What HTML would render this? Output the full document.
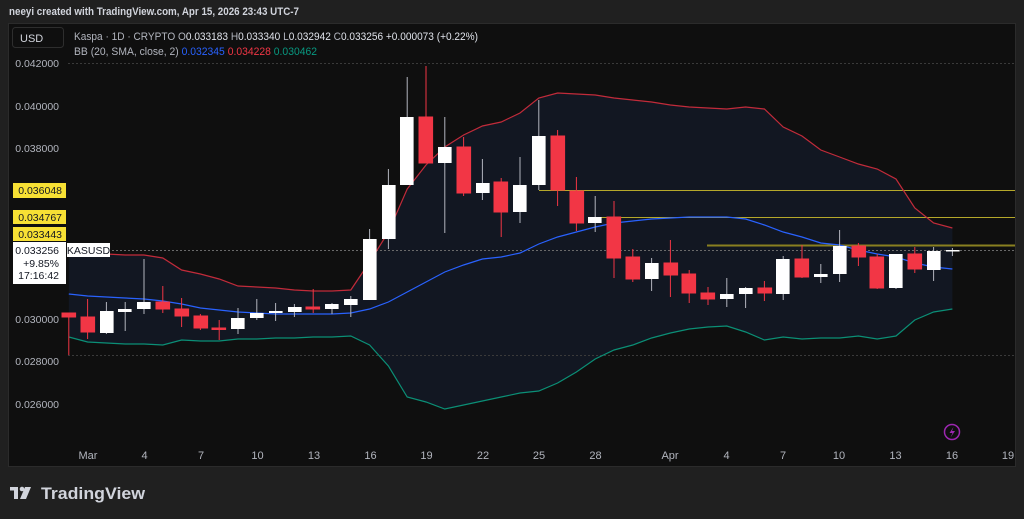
<!DOCTYPE html>
<html><head><meta charset="utf-8"><style>
html,body{margin:0;padding:0;background:#202020;}
svg{display:block;font-family:"Liberation Sans","DejaVu Sans",sans-serif;}
</style></head><body>
<svg width="1024" height="519" viewBox="0 0 1024 519" xmlns="http://www.w3.org/2000/svg">
<rect x="0" y="0" width="1024" height="519" fill="#202020"/>
<text x="9" y="15" font-size="11" fill="#d1d4dc" font-weight="bold" textLength="290" lengthAdjust="spacingAndGlyphs">neeyi created with TradingView.com, Apr 15, 2026 23:43 UTC-7</text>
<rect x="8.5" y="23.5" width="1007" height="443" fill="#0f0f0f" stroke="#2b2b2b"/>
<polygon fill="#121722" points="68.8,253 87.6,254 106.4,254 125.2,255 144,255 162.8,258 181.6,270 200.4,274 219.2,279 238,286 256.8,287 275.6,288 294.4,290 313.2,291 332,291 350.8,290 369.6,262 388.4,232 407.2,189 426,165 444.8,147 463.6,135 482.4,126 501.2,122 520,113 538.8,98 557.6,93 576.4,94 595.2,95 614,98 632.8,100 651.6,102 670.4,105 689.2,107 708,108 726.8,109 745.6,107 764.4,109 783.2,127 802,136 820.8,150 839.6,157 858.4,164 877.2,169 896,179 914.8,208 933.6,223 952.4,228 952.4,309 933.6,312 914.8,320 896,336 877.2,339 858.4,336 839.6,338 820.8,338 802,339 783.2,337 764.4,340 745.6,332 726.8,326 708,327 689.2,329 670.4,333 651.6,338 632.8,345 614,350 595.2,359 576.4,372 557.6,383 538.8,391 520,393 501.2,397 482.4,401 463.6,405 444.8,409 426,402 407.2,397 388.4,366 369.6,345 350.8,336 332,337 313.2,337 294.4,338 275.6,338 256.8,339 238,339 219.2,341 200.4,341 181.6,340 162.8,345 144,344 125.2,344 106.4,343 87.6,342 68.8,337"/>
<line x1="68" y1="63.5" x2="1015" y2="63.5" stroke="#3a3a3a" stroke-dasharray="2,2"/>
<line x1="68" y1="355.5" x2="1015" y2="355.5" stroke="#3a3a3a" stroke-dasharray="2,2"/>
<line x1="68" y1="250.5" x2="1015" y2="250.5" stroke="#6a6a6a" stroke-dasharray="2,2"/>
<line x1="539" y1="190.5" x2="1015" y2="190.5" stroke="#b5a82a" stroke-width="1"/>
<line x1="595" y1="217.5" x2="1015" y2="217.5" stroke="#b5a82a" stroke-width="1"/>
<line x1="707" y1="245.5" x2="1015" y2="245.5" stroke="#8a8020" stroke-width="2"/>
<polyline fill="none" stroke="#c22b3a" stroke-width="1.2" points="68.8,253 87.6,254 106.4,254 125.2,255 144,255 162.8,258 181.6,270 200.4,274 219.2,279 238,286 256.8,287 275.6,288 294.4,290 313.2,291 332,291 350.8,290 369.6,262 388.4,232 407.2,189 426,165 444.8,147 463.6,135 482.4,126 501.2,122 520,113 538.8,98 557.6,93 576.4,94 595.2,95 614,98 632.8,100 651.6,102 670.4,105 689.2,107 708,108 726.8,109 745.6,107 764.4,109 783.2,127 802,136 820.8,150 839.6,157 858.4,164 877.2,169 896,179 914.8,208 933.6,223 952.4,228"/>
<polyline fill="none" stroke="#2962ff" stroke-width="1.2" points="68.8,294 87.6,296 106.4,297 125.2,298 144,299 162.8,301 181.6,304 200.4,308 219.2,310 238,312 256.8,313 275.6,314 294.4,314 313.2,314 332,314 350.8,313 369.6,309 388.4,302 407.2,292 426,282 444.8,272 463.6,265 482.4,259 501.2,257 520,253 538.8,244 557.6,237 576.4,232 595.2,227 614,223 632.8,221 651.6,219 670.4,218 689.2,217 708,217 726.8,217 745.6,219 764.4,225 783.2,232 802,237 820.8,243 839.6,245 858.4,250 877.2,254 896,257 914.8,263 933.6,267 952.4,269"/>
<polyline fill="none" stroke="#0b8f76" stroke-width="1.2" points="68.8,337 87.6,342 106.4,343 125.2,344 144,344 162.8,345 181.6,340 200.4,341 219.2,341 238,339 256.8,339 275.6,338 294.4,338 313.2,337 332,337 350.8,336 369.6,345 388.4,366 407.2,397 426,402 444.8,409 463.6,405 482.4,401 501.2,397 520,393 538.8,391 557.6,383 576.4,372 595.2,359 614,350 632.8,345 651.6,338 670.4,333 689.2,329 708,327 726.8,326 745.6,332 764.4,340 783.2,337 802,339 820.8,338 839.6,338 858.4,336 877.2,339 896,336 914.8,320 933.6,312 952.4,309"/>
<g stroke-width="1">
<g stroke="#f23645" fill="#f23645">
<line x1="68.8" y1="313" x2="68.8" y2="355"/><rect x="62" y="313" width="13.6" height="4"/>
<line x1="87.6" y1="299" x2="87.6" y2="339"/><rect x="81" y="317" width="13.6" height="15"/>
<line x1="162.8" y1="286" x2="162.8" y2="313"/><rect x="156" y="302" width="13.6" height="7"/>
<line x1="181.6" y1="298" x2="181.6" y2="327"/><rect x="175" y="309" width="13.6" height="7"/>
<line x1="200.4" y1="314" x2="200.4" y2="330"/><rect x="194" y="316" width="13.6" height="12"/>
<line x1="219.2" y1="320" x2="219.2" y2="340"/><rect x="212" y="328" width="13.6" height="1.5"/>
<line x1="313.2" y1="289" x2="313.2" y2="313"/><rect x="306" y="307" width="13.6" height="2"/>
<line x1="426" y1="66" x2="426" y2="163"/><rect x="419" y="117" width="13.6" height="46"/>
<line x1="463.6" y1="137" x2="463.6" y2="196"/><rect x="457" y="147" width="13.6" height="46"/>
<line x1="501.2" y1="178" x2="501.2" y2="237"/><rect x="494" y="182" width="13.6" height="30"/>
<line x1="557.6" y1="130" x2="557.6" y2="206"/><rect x="551" y="136" width="13.6" height="54"/>
<line x1="576.4" y1="177" x2="576.4" y2="231"/><rect x="570" y="191" width="13.6" height="32"/>
<line x1="614" y1="201" x2="614" y2="278"/><rect x="607" y="217" width="13.6" height="41"/>
<line x1="632.8" y1="249" x2="632.8" y2="282"/><rect x="626" y="257" width="13.6" height="22"/>
<line x1="670.4" y1="240" x2="670.4" y2="297"/><rect x="664" y="263" width="13.6" height="12"/>
<line x1="689.2" y1="270" x2="689.2" y2="303"/><rect x="682" y="274" width="13.6" height="19"/>
<line x1="708" y1="287" x2="708" y2="305"/><rect x="701" y="293" width="13.6" height="6"/>
<line x1="764.4" y1="281" x2="764.4" y2="301"/><rect x="758" y="288" width="13.6" height="5"/>
<line x1="802" y1="245" x2="802" y2="278"/><rect x="795" y="259" width="13.6" height="18"/>
<line x1="858.4" y1="243" x2="858.4" y2="266"/><rect x="852" y="246" width="13.6" height="11"/>
<line x1="877.2" y1="254" x2="877.2" y2="289"/><rect x="870" y="257" width="13.6" height="31"/>
<line x1="914.8" y1="247" x2="914.8" y2="273"/><rect x="908" y="254" width="13.6" height="15"/>
</g>
<g stroke="#b2b5be" fill="#ffffff">
<line x1="106.4" y1="302" x2="106.4" y2="334"/><rect x="100" y="311" width="13.6" height="22" stroke="none"/>
<line x1="125.2" y1="302" x2="125.2" y2="331"/><rect x="118" y="309" width="13.6" height="3" stroke="none"/>
<line x1="144" y1="259" x2="144" y2="314"/><rect x="137" y="302" width="13.6" height="7" stroke="none"/>
<line x1="238" y1="308" x2="238" y2="334"/><rect x="231" y="318" width="13.6" height="11" stroke="none"/>
<line x1="256.8" y1="299" x2="256.8" y2="320"/><rect x="250" y="313" width="13.6" height="5" stroke="none"/>
<line x1="275.6" y1="303" x2="275.6" y2="321"/><rect x="269" y="311" width="13.6" height="2" stroke="none"/>
<line x1="294.4" y1="304" x2="294.4" y2="317"/><rect x="288" y="307" width="13.6" height="5" stroke="none"/>
<line x1="332" y1="303" x2="332" y2="314"/><rect x="325" y="304" width="13.6" height="5" stroke="none"/>
<line x1="350.8" y1="296" x2="350.8" y2="317"/><rect x="344" y="299" width="13.6" height="6" stroke="none"/>
<line x1="369.6" y1="229" x2="369.6" y2="300"/><rect x="363" y="239" width="13.6" height="61" stroke="none"/>
<line x1="388.4" y1="169" x2="388.4" y2="249"/><rect x="382" y="185" width="13.6" height="54" stroke="none"/>
<line x1="407.2" y1="77" x2="407.2" y2="185"/><rect x="400" y="117" width="13.6" height="68" stroke="none"/>
<line x1="444.8" y1="117" x2="444.8" y2="233"/><rect x="438" y="147" width="13.6" height="16" stroke="none"/>
<line x1="482.4" y1="159" x2="482.4" y2="200"/><rect x="476" y="183" width="13.6" height="10" stroke="none"/>
<line x1="520" y1="157" x2="520" y2="223"/><rect x="513" y="185" width="13.6" height="27" stroke="none"/>
<line x1="538.8" y1="100" x2="538.8" y2="190"/><rect x="532" y="136" width="13.6" height="49" stroke="none"/>
<line x1="595.2" y1="196" x2="595.2" y2="232"/><rect x="588" y="217" width="13.6" height="6" stroke="none"/>
<line x1="651.6" y1="258" x2="651.6" y2="291"/><rect x="645" y="263" width="13.6" height="16" stroke="none"/>
<line x1="726.8" y1="278" x2="726.8" y2="307"/><rect x="720" y="294" width="13.6" height="5" stroke="none"/>
<line x1="745.6" y1="287" x2="745.6" y2="308"/><rect x="739" y="288" width="13.6" height="6" stroke="none"/>
<line x1="783.2" y1="256" x2="783.2" y2="300"/><rect x="776" y="259" width="13.6" height="35" stroke="none"/>
<line x1="820.8" y1="264" x2="820.8" y2="283"/><rect x="814" y="274" width="13.6" height="3" stroke="none"/>
<line x1="839.6" y1="230" x2="839.6" y2="282"/><rect x="833" y="246" width="13.6" height="28" stroke="none"/>
<line x1="896" y1="254" x2="896" y2="289"/><rect x="889" y="254" width="13.6" height="34" stroke="none"/>
<line x1="933.6" y1="247" x2="933.6" y2="281"/><rect x="927" y="251" width="13.6" height="19" stroke="none"/>
<line x1="952.4" y1="248" x2="952.4" y2="256"/><rect x="946" y="250" width="13.6" height="1.5" stroke="none"/>
</g>
</g>
<rect x="12.5" y="27.5" width="51" height="20" rx="3" fill="#0f0f0f" stroke="#2e2e2e"/>
<text x="20" y="42" font-size="11" fill="#d1d4dc">USD</text>
<text x="74" y="40" font-size="11" fill="#b2b5be" textLength="404" lengthAdjust="spacingAndGlyphs">Kaspa · 1D · CRYPTO  O<tspan fill="#e0e3eb">0.033183</tspan>  H<tspan fill="#e0e3eb">0.033340</tspan>  L<tspan fill="#e0e3eb">0.032942</tspan>  C<tspan fill="#e0e3eb">0.033256</tspan>  <tspan fill="#e0e3eb">+0.000073 (+0.22%)</tspan></text>
<text x="74" y="55" font-size="11" fill="#b2b5be" textLength="243" lengthAdjust="spacingAndGlyphs">BB (20, SMA, close, 2) <tspan fill="#2962ff">0.032345</tspan> <tspan fill="#f23645">0.034228</tspan> <tspan fill="#089981">0.030462</tspan></text>
<g font-size="10.5" fill="#b2b5be" text-anchor="end">
<text x="59" y="67">0.042000</text>
<text x="59" y="110">0.040000</text>
<text x="59" y="152">0.038000</text>
<text x="59" y="323">0.030000</text>
<text x="59" y="365">0.028000</text>
<text x="59" y="408">0.026000</text>
</g>
<rect x="13" y="183" width="53" height="15" fill="#f7e034"/>
<text x="62" y="194" font-size="10.5" fill="#131722" text-anchor="end">0.036048</text>
<rect x="13" y="210" width="53" height="14" fill="#f7e034"/>
<text x="62" y="221" font-size="10.5" fill="#131722" text-anchor="end">0.034767</text>
<rect x="13" y="227" width="53" height="14" fill="#f7e034"/>
<text x="62" y="238" font-size="10.5" fill="#131722" text-anchor="end">0.033443</text>
<rect x="13" y="242" width="53" height="42" fill="#ffffff"/>
<g font-size="10.5" fill="#131722" text-anchor="end">
<text x="59" y="254">0.033256</text>
<text x="59" y="267">+9.85%</text>
<text x="59" y="279">17:16:42</text>
</g>
<rect x="67" y="243" width="43" height="14" fill="#ffffff"/>
<text x="88.5" y="254" font-size="10.5" fill="#131722" text-anchor="middle">KASUSD</text>
<g font-size="11" fill="#b2b5be" text-anchor="middle">
<text x="88" y="459">Mar</text>
<text x="144.5" y="459">4</text>
<text x="201" y="459">7</text>
<text x="257.5" y="459">10</text>
<text x="314" y="459">13</text>
<text x="370.5" y="459">16</text>
<text x="426.5" y="459">19</text>
<text x="483" y="459">22</text>
<text x="539" y="459">25</text>
<text x="595.5" y="459">28</text>
<text x="670" y="459">Apr</text>
<text x="726.5" y="459">4</text>
<text x="783" y="459">7</text>
<text x="839" y="459">10</text>
<text x="895.5" y="459">13</text>
<text x="952" y="459">16</text>
<text x="1008" y="459">19</text>
</g>
<circle cx="952" cy="432" r="7.5" fill="none" stroke="#9c27b0" stroke-width="1.5"/>
<path d="M953.5,427 L949.5,433 L952.5,433 L950.5,437.5 L955,431 L952,431 Z" fill="#9c27b0"/>
<g fill="#d1d4dc">
<rect x="10" y="487" width="8" height="3.5"/>
<rect x="14" y="487" width="4" height="12"/>
<circle cx="22" cy="489" r="2.3"/>
<polygon points="25,487 31,487 26,499 20,499"/>
</g>
<text x="41" y="499" font-size="17" font-weight="bold" fill="#d1d4dc" textLength="104" lengthAdjust="spacingAndGlyphs">TradingView</text>
</svg>
</body></html>
